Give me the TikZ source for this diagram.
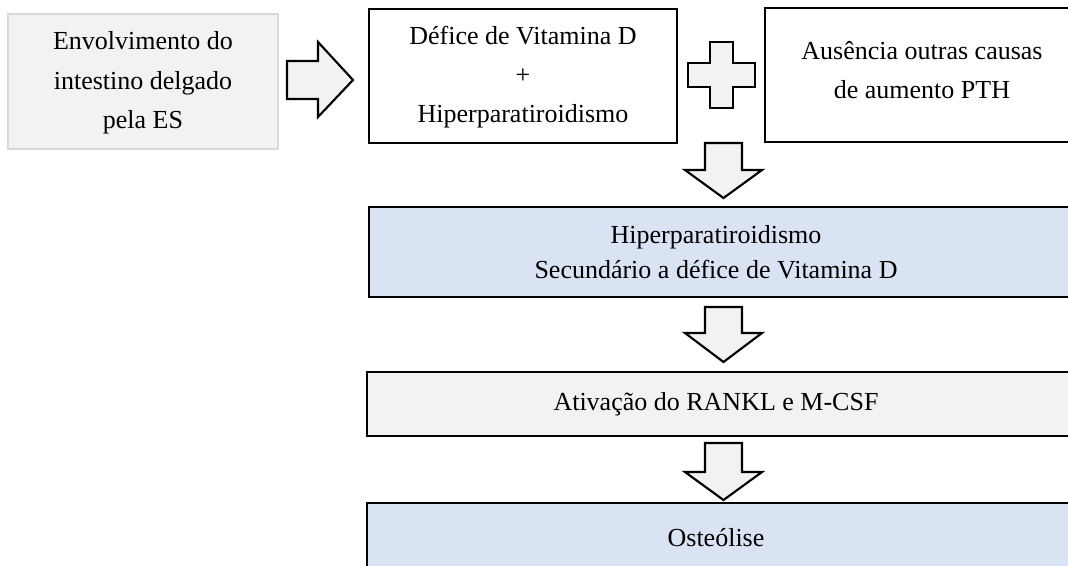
\documentclass[tikz,border=0pt]{standalone}
\usepackage{fontspec}
\setmainfont{Liberation Serif}
\usetikzlibrary{fit}
\begin{document}
\begin{tikzpicture}[x=0.75pt,y=-0.75pt,
  bx/.style={draw=black, line width=1.6pt, inner sep=0pt},
  greybx/.style={draw=lgrey, fill=pgrey, line width=1.6pt, inner sep=0pt},
  blockarr/.style={draw=black, fill=pgrey, line width=1.6pt, line join=miter},
  txt/.style={align=center, inner sep=0pt, font=\fontsize{19.5pt}{29.5pt}\selectfont},
  txtb/.style={align=center, inner sep=0pt, font=\fontsize{19.5pt}{26pt}\selectfont}]
\definecolor{pgrey}{HTML}{F2F2F2}
\definecolor{lgrey}{HTML}{D9D9D9}
\definecolor{pblue}{HTML}{DAE3F3}
\useasboundingbox (0,0) rectangle (1068,565);
\clip (0,0) rectangle (1068,565);
% boxes
\node[greybx, fit={(8,14)(278,149)}] (b1) {};
\node[bx, fill=white, fit={(369,9)(677,143)}] (b2) {};
\node[bx, fill=white, fit={(765,8)(1085,142)}] (b3) {};
\node[bx, fill=pblue, fit={(369,207)(1085,297)}] (b4) {};
\node[bx, fill=pgrey, fit={(367,372)(1085,436)}] (b5) {};
\node[bx, fill=pblue, fit={(367,503)(1085,600)}] (b6) {};
% texts
\node[txt] (t1) at (143,83) {Envolvimento do\\intestino delgado\\pela ES};
\node[txt] (t2) at (523,77) {Défice de Vitamina D\\+\\Hiperparatiroidismo};
\node[txt] (t3) at (922,70) {Ausência outras causas\\de aumento PTH};
\node[txtb] (t4) at (716,252) {Hiperparatiroidismo\\Secundário a défice de Vitamina D};
\node[txtb] (t5) at (716,404) {Ativação do RANKL e M-CSF};
\node[txtb] (t6) at (716,538) {Osteólise};
% right block arrow
\draw[blockarr] (287,61) -- (318,61) -- (318,42) -- (353,80) -- (318,117) -- (318,99) -- (287,99) -- cycle;
% plus sign
\draw[blockarr] (710,42) -- (733,42) -- (733,63) -- (755,63) -- (755,87) -- (733,87) -- (733,108) -- (710,108) -- (710,87) -- (688,87) -- (688,63) -- (710,63) -- cycle;
% down block arrows
\foreach \T/\H/\P in {143/170/198, 307/333/362, 443/472/500}{
  \draw[blockarr] (705,\T) -- (742,\T) -- (742,\H) -- (762,\H) -- (723.5,\P) -- (685,\H) -- (705,\H) -- cycle;
}
\end{tikzpicture}
\end{document}
